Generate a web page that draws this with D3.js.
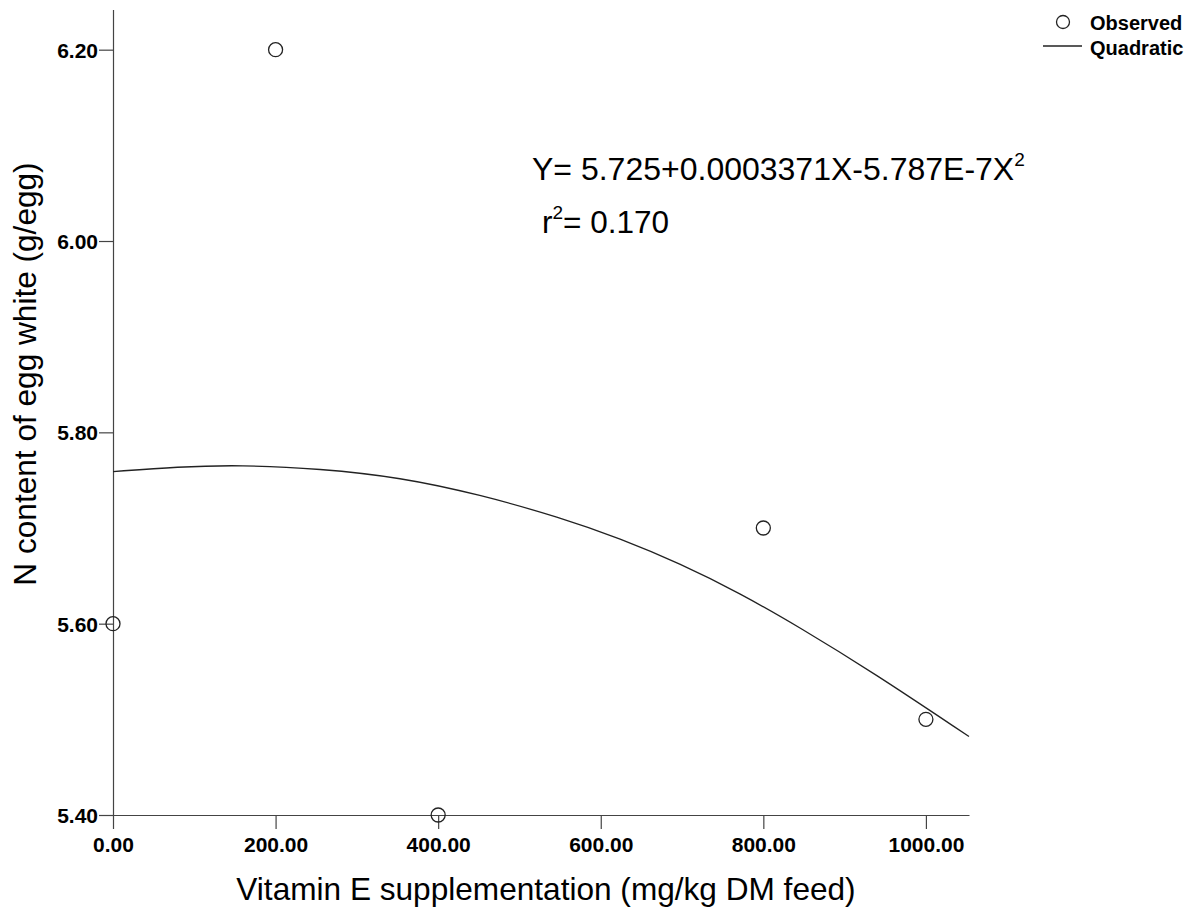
<!DOCTYPE html>
<html>
<head>
<meta charset="utf-8">
<script src="https://cdn.jsdelivr.net/npm/d3@7"></script>
<style>
  html, body { margin: 0; padding: 0; background: #fff; }
  svg { display: block; }
  text { font-family: "Liberation Sans", Arial, Helvetica, sans-serif; fill: #000; }
</style>
</head>
<body>
<svg id="chart" width="1190" height="913"></svg>
<script>
// Observed data
const doseX = [0, 200, 400, 800, 1000];
const observedY = [5.60, 6.20, 5.40, 5.70, 5.50];

// Quadratic fit curve
const curveX = [0, 80, 156, 255, 353, 451, 550, 624, 697, 771, 845, 935, 1053];
const curveY = [5.759, 5.764, 5.766, 5.762, 5.753, 5.735, 5.711, 5.689, 5.663, 5.632, 5.596, 5.549, 5.482];

// Tick values / labels
const xTicks = [0, 200, 400, 600, 800, 1000];
const yTicks = [5.40, 5.60, 5.80, 6.00, 6.20];

const xTitle = "Vitamin E supplementation (mg/kg DM feed)";
const yTitle = "N content of egg white (g/egg)";
const legendLabels = ["Observed", "Quadratic"];

const svg = d3.select("#chart");

const x = d3.scaleLinear().domain([0, 1053]).range([113, 969]);
const y = d3.scaleLinear().domain([5.40, 6.242]).range([815, 9.5]);

const axisColor = "#444";

// X axis
const gx = svg.append("g").attr("transform", `translate(0,${y(5.40)})`)
  .call(d3.axisBottom(x).tickValues(xTicks).tickFormat(d3.format(".2f")).tickSize(14).tickSizeOuter(0));
gx.select(".domain").attr("stroke", axisColor).attr("stroke-width", 1.2);
gx.selectAll(".tick line").attr("stroke", axisColor).attr("stroke-width", 1.2);
gx.selectAll(".tick text")
  .attr("y", 22).attr("dy", "0.71em")
  .style("font-size", "21px").style("font-weight", "bold")
  .style("font-family", "'Liberation Sans', Arial, sans-serif");

// Y axis
const gy = svg.append("g").attr("transform", `translate(${x(0)},0)`)
  .call(d3.axisLeft(y).tickValues(yTicks).tickFormat(d3.format(".2f")).tickSize(14).tickSizeOuter(0));
gy.select(".domain").attr("stroke", axisColor).attr("stroke-width", 1.2);
gy.selectAll(".tick line").attr("stroke", axisColor).attr("stroke-width", 1.2);
gy.selectAll(".tick text")
  .attr("x", -15).attr("dy", "0.36em")
  .style("font-size", "21px").style("font-weight", "bold")
  .style("font-family", "'Liberation Sans', Arial, sans-serif");

// Axis titles
svg.append("text")
  .attr("x", 546).attr("y", 900)
  .attr("text-anchor", "middle")
  .style("font-size", "31.6px")
  .text(xTitle);

svg.append("text")
  .attr("transform", `translate(36,374) rotate(-90)`)
  .attr("text-anchor", "middle")
  .style("font-size", "31.6px")
  .text(yTitle);

// Fitted curve
const line = d3.line().x(d => x(d[0])).y(d => y(d[1])).curve(d3.curveBasis);
svg.append("path")
  .datum(curveX.map((v, i) => [v, curveY[i]]))
  .attr("d", line)
  .attr("fill", "none").attr("stroke", "#222").attr("stroke-width", 1.3);

// Observed points
svg.selectAll("circle.obs")
  .data(doseX.map((v, i) => [v, observedY[i]]))
  .enter().append("circle")
  .attr("class", "obs")
  .attr("cx", d => x(d[0])).attr("cy", d => y(d[1]))
  .attr("r", 7)
  .attr("fill", "none").attr("stroke", "#222").attr("stroke-width", 1.3);

// Equation annotations
const eq = svg.append("text").attr("x", 532).attr("y", 180).style("font-size", "32px");
eq.append("tspan").text("Y= 5.725+0.0003371X-5.787E-7X");
eq.append("tspan").attr("dy", -14).style("font-size", "19px").text("2");

const r2 = svg.append("text").attr("x", 542).attr("y", 233).style("font-size", "31.5px");
r2.append("tspan").text("r");
r2.append("tspan").attr("dy", -14).style("font-size", "19px").text("2");
r2.append("tspan").attr("dy", 14).text("= 0.170");

// Legend
const lg = svg.append("g");
lg.append("circle").attr("cx", 1063).attr("cy", 22).attr("r", 6.5)
  .attr("fill", "none").attr("stroke", "#222").attr("stroke-width", 1.3);
lg.append("text").attr("x", 1090).attr("y", 30)
  .style("font-size", "20px").style("font-weight", "bold").text(legendLabels[0]);
lg.append("line").attr("x1", 1043).attr("x2", 1082).attr("y1", 46).attr("y2", 46)
  .attr("stroke", "#222").attr("stroke-width", 1.3);
lg.append("text").attr("x", 1090).attr("y", 55)
  .style("font-size", "20px").style("font-weight", "bold").text(legendLabels[1]);
</script>
</body>
</html>
